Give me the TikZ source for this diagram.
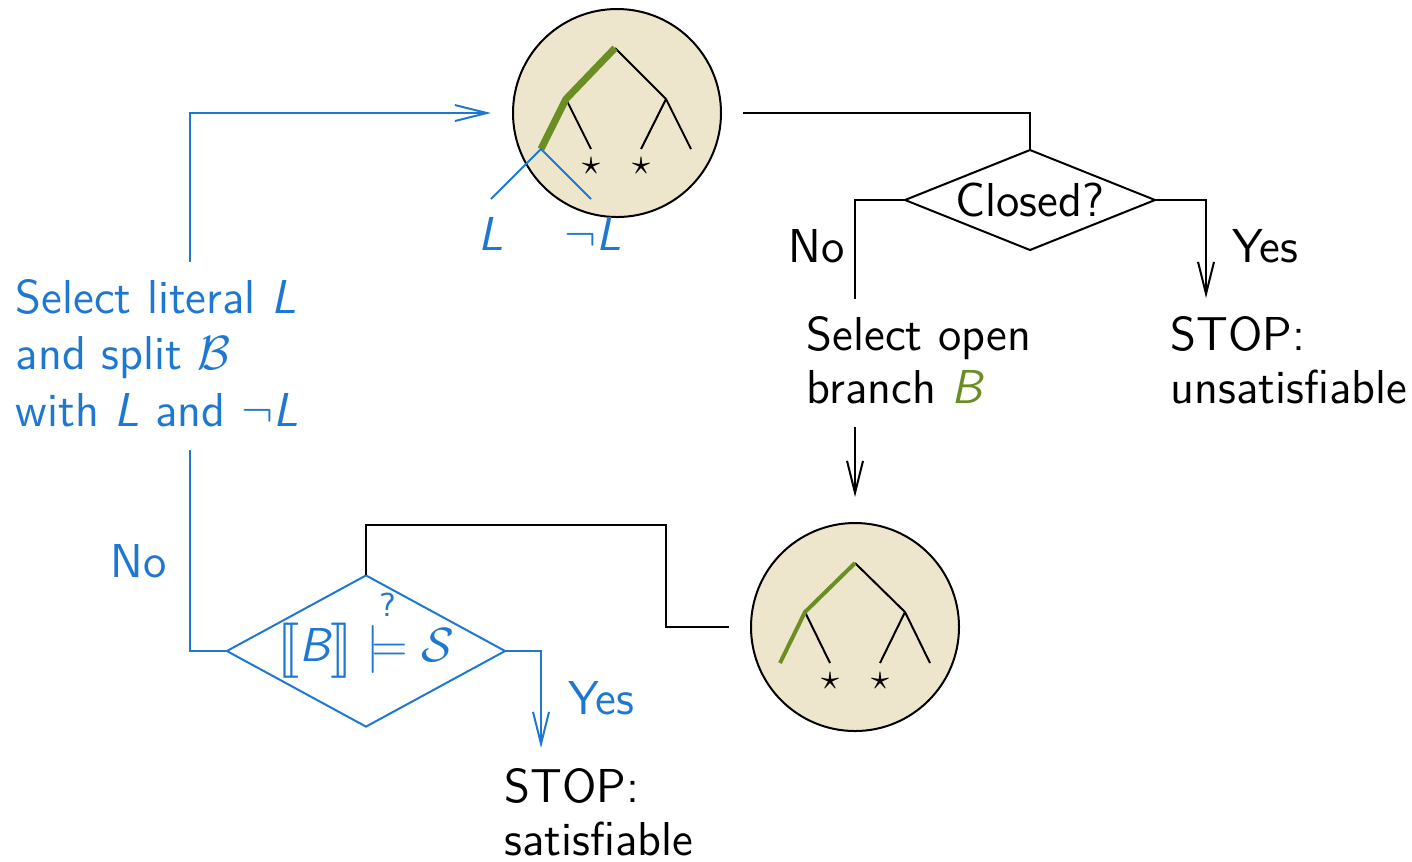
\documentclass[tikz,border=0pt]{standalone}
\usepackage{amsmath,amssymb}
\usepackage{stmaryrd}
\usepackage{graphicx}
\usetikzlibrary{shapes.geometric,arrows.meta}
\renewcommand{\familydefault}{\sfdefault}
\definecolor{tblue}{RGB}{30,120,210}
\definecolor{tgreen}{RGB}{107,142,35}
\definecolor{tbeige}{RGB}{237,230,204}
\newcommand{\sembrack}[1]{\raisebox{-0.06em}{\scalebox{1.15}{$\llbracket$}}#1\raisebox{-0.06em}{\scalebox{1.15}{$\rrbracket$}}}
\tikzset{
  every node/.style={font=\fontsize{11.9}{13.25}\selectfont},
  line/.style={line width=0.5pt},
  arr/.style={line width=0.5pt,-{Straight Barb[length=8pt,width=4pt,line width=0.5pt]}},
  blob/.style={circle,draw,line width=0.5pt,fill=tbeige,minimum size=52pt,inner sep=0pt,outer sep=5.5pt},
  decide/.style={diamond,draw,line width=0.5pt,inner sep=0pt,outer sep=0pt},
  txt/.style={anchor=base west,inner sep=0pt,align=left},
  wide/.style={font=\fontsize{11.9}{14.1}\selectfont},
  edge/.style={line width=0.5pt},
  starnode/.style={inner sep=0pt,font=\fontsize{9}{9}\selectfont},
}
\begin{document}
\begin{tikzpicture}[x=0.25pt,y=-0.25pt]
\useasboundingbox (0,0) rectangle (1412,861);

% circles
\node[blob] (top) at (617,113) {};
\node[blob] (bot) at (855,627) {};

% top tree
\coordinate (ta) at (615,48);
\coordinate (tl) at (566,99);
\coordinate (tr) at (666,99);
\coordinate (tll) at (541,149);
\coordinate (tlr) at (591,149);
\coordinate (trl) at (641,149);
\coordinate (trr) at (691,149);
\draw[edge] (ta) -- (tr) (tl) -- (tlr) (tr) -- (trl) (tr) -- (trr);
\draw[tgreen,line width=1.75pt,line join=miter] (ta) -- (tl) -- (tll);
\node[starnode] (ts1) at (591,166) {$\star$};
\node[starnode] (ts2) at (641,166) {$\star$};
\coordinate (tL) at (491,199);
\coordinate (tnL) at (591,199);
\draw[edge,tblue] (tL) -- (tll) -- (tnL);
\node[tblue,anchor=base,inner sep=0pt] (labL) at (491,250) {\textit{L}};
\node[tblue,anchor=base,inner sep=0pt] (labnL) at (593,250) {$\neg$\textit{L}};

% bottom tree
\coordinate (ba) at (855,563);
\coordinate (bl) at (805,612);
\coordinate (br) at (905,612);
\coordinate (bll) at (780,663);
\coordinate (blr) at (830,663);
\coordinate (brl) at (880,663);
\coordinate (brr) at (930,663);
\draw[edge] (ba) -- (br) (bl) -- (blr) (br) -- (brl) (br) -- (brr);
\draw[tgreen,line width=1pt,line join=miter] (ba) -- (bl) -- (bll);
\node[starnode] (bs1) at (830,681) {$\star$};
\node[starnode] (bs2) at (880,681) {$\star$};

% diamonds
\node[decide,minimum width=62.5pt,minimum height=25pt,aspect=2.5] (closed) at (1030,200) {Closed?};
\node[decide,tblue,minimum width=69pt,minimum height=37.5pt,aspect=1.84] (sat) at (366,651)
  {$\sembrack{\textit{B}} \mathrel{\smash{\overset{\text{?}}{\models}}} \mathcal{S}$};

% texts
\node[txt,tblue,wide] (sel) at (15,426) {Select literal \textit{L}\\and split $\mathcal{B}$\\with \textit{L} and $\neg$\textit{L}};
\node[txt] (open) at (806,403) {Select open\\branch \textcolor{tgreen}{\textit{B}}};
\node[txt] (unsat) at (1170,403) {STOP:\\unsatisfiable};
\node[txt] (satis) at (504,855) {STOP:\\satisfiable};
\node[txt] (no1) at (788,262) {No};
\node[txt] (yes1) at (1232,262) {Yes};
\node[txt,tblue] (no2) at (110,577) {No};
\node[txt,tblue] (yes2) at (568,714) {Yes};

% connectors
\coordinate (c1) at (190,262);
\coordinate (c2) at (855,299);
\coordinate (c3) at (1206,298);
\coordinate (c4) at (855,427);
\coordinate (c5) at (855,497);
\coordinate (k) at (666,525);
\coordinate (c6) at (190,450);
\coordinate (c7) at (541,748);

\draw[arr,tblue] (c1) |- (top);
\draw[line] (top.east) -| (closed.north);
\draw[line] (closed.west) -| (c2);
\draw[arr] (closed.east) -| (c3);
\draw[arr] (c4) -- (c5);
\draw[line] (bot.west) -| (k) -| (sat.north);
\draw[line,tblue] (sat.west) -| (c6);
\draw[arr,tblue] (sat.east) -| (c7);
\end{tikzpicture}
\end{document}
